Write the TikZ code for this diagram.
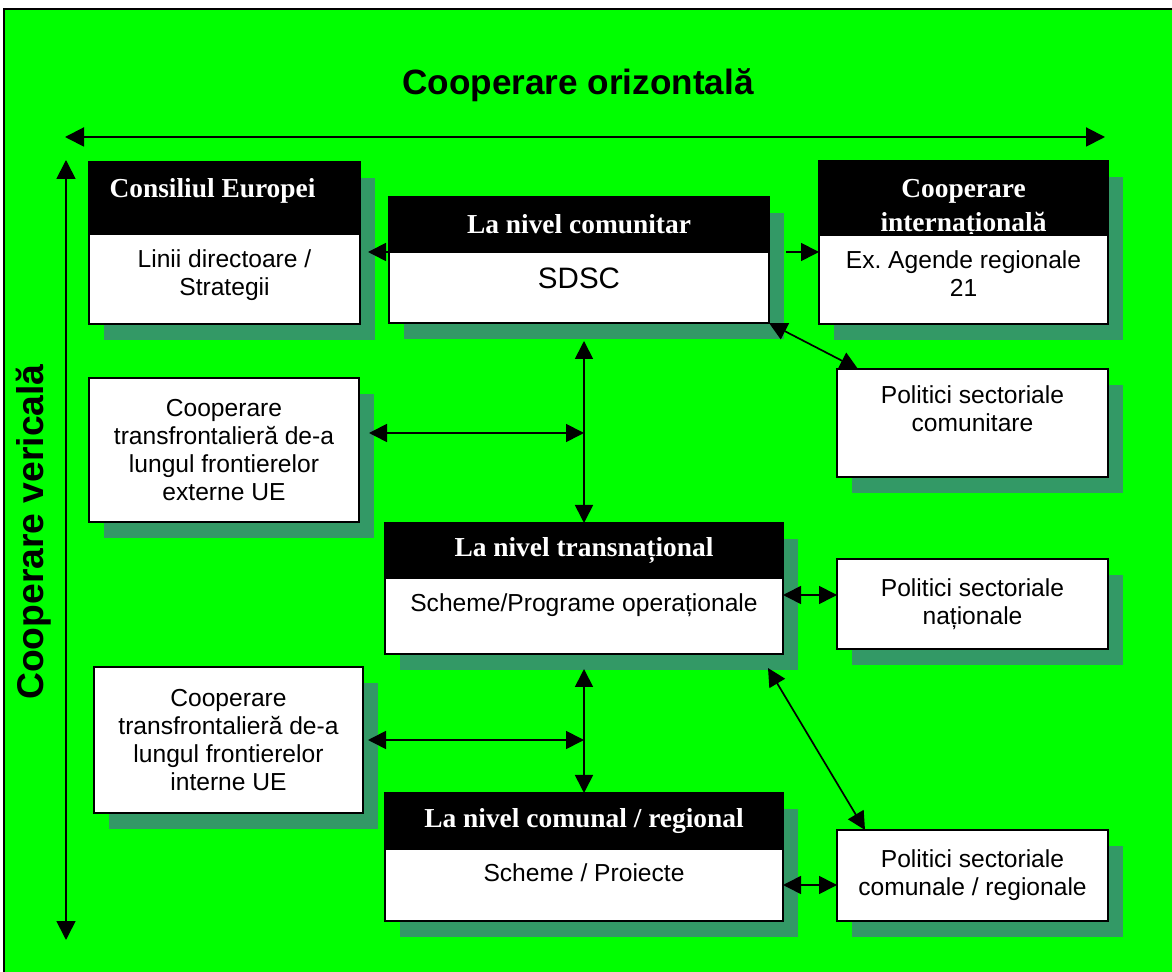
\documentclass[tikz,border=0pt]{standalone}
\usepackage{fontspec}
\setmainfont{Liberation Sans}
\newfontfamily\hdrfamily{Liberation Serif}
\usetikzlibrary{positioning,shadows,arrows.meta}

\definecolor{bggreen}{RGB}{0,255,0}
\definecolor{shadowgreen}{RGB}{51,153,102}

\tikzset{
    tile/.style={draw=black, line width=1.2pt, outer sep=0pt, inner sep=2pt, align=center,
        drop shadow={shadow xshift=0.375cm, shadow yshift=-0.4cm, fill=shadowgreen, opacity=1}},
    hdr/.style={tile, fill=black, text=white, minimum width=#1,
        font=\hdrfamily\bfseries\fontsize{19.5}{23.5}\selectfont},
    panel/.style={tile, fill=white, minimum width=#1, font=\fontsize{17.5}{20}\selectfont},
    bigtitle/.style={font=\bfseries\fontsize{25}{30}\selectfont},
    axis/.style={line width=1.4pt, {Triangle[length=0.475cm,width=0.475cm]}-{Triangle[length=0.475cm,width=0.475cm]}},
    onehead/.style={line width=1.2pt, -{Triangle[length=0.45cm,width=0.45cm]}},
    twohead/.style={line width=1.2pt, {Triangle[length=0.45cm,width=0.45cm]}-{Triangle[length=0.45cm,width=0.45cm]}},
}

\begin{document}
\begin{tikzpicture}
    \useasboundingbox (0,0) rectangle (29.3,24.275);
    % green sheet
    \draw[fill=bggreen, line width=1.4pt] (0.1,-1) rectangle (30,24.05);

    % axes
    \node[bigtitle, anchor=base] (horiz) at (14.45,21.9) {Cooperare orizontală};
    \node[bigtitle, font=\bfseries\fontsize{26.5}{30}\selectfont, anchor=base, rotate=90] (vert) at (1.075,10.975) {Cooperare vericală};
    \coordinate (hL) at (1.625,20.85);
    \coordinate (hR) at (27.625,20.85);
    \coordinate (vT) at (1.65,20.275);
    \coordinate (vB) at (1.65,0.775);
    \draw[axis] (hL) -- (hR);
    \draw[axis, line width=1.2pt] (vT) -- (vB);

    % top row
    \node[hdr=6.775cm, minimum height=1.8cm, text depth=0.5cm, anchor=north] (eurH) at (5.6125,20.225) {\mbox{Consiliul Europei\hspace{0.6cm}}};
    \node[panel=6.775cm, minimum height=2.25cm, below=0pt of eurH] (eur) {Linii directoare /\\Strategii\\[-11pt]\mbox{}};

    \node[hdr=9.5cm, minimum height=1.375cm, anchor=north] (comH) at (14.475,19.35) {La nivel comunitar};
    \node[panel=9.5cm, minimum height=1.775cm, text depth=0.475cm, font=\fontsize{21}{25}\selectfont, below=0pt of comH] (com) {SDSC};

    \node[hdr=7.225cm, minimum height=1.85cm, text width=7cm, text height=13.5pt, text depth=13.5pt, anchor=north] (intlH) at (24.0875,20.25) {Cooperare\\internațională};
    \node[panel=7.225cm, minimum height=2.225cm, below=0pt of intlH] (intl) {Ex.\ Agende regionale\\21\\[-12pt]\mbox{}};

    \node[panel=6.775cm, minimum height=2.7cm, anchor=north] (polcom) at (24.3125,15.05) {Politici sectoriale\\comunitare\\\mbox{}};

    % middle row
    \node[panel=6.75cm, minimum height=3.6cm, anchor=north] (extern) at (5.6,14.825) {Cooperare\\transfrontalieră de-a\\lungul frontierelor\\externe UE};

    \node[hdr=9.95cm, minimum height=1.375cm, anchor=north] (transH) at (14.6,11.2) {La nivel transnațional};
    \node[panel=9.95cm, minimum height=1.9cm, text depth=0.65cm, below=0pt of transH] (trans) {Scheme/Programe operaționale};

    \node[panel=6.775cm, minimum height=2.25cm, anchor=north] (polnat) at (24.3125,10.3) {Politici sectoriale\\naționale};

    % bottom row
    \node[panel=6.725cm, minimum height=3.65cm, anchor=north] (intern) at (5.7125,7.6) {Cooperare\\transfrontalieră de-a\\lungul frontierelor\\interne UE};

    \node[hdr=9.95cm, minimum height=1.4cm, anchor=north] (comunH) at (14.6,4.45) {La nivel comunal / regional};
    \node[panel=9.95cm, minimum height=1.8cm, text depth=0.6cm, below=0pt of comunH] (comun) {Scheme / Proiecte};

    \node[panel=6.775cm, minimum height=2.275cm, anchor=north] (polreg) at (24.3125,3.525) {Politici sectoriale\\comunale / regionale};

    % links
    \draw[onehead, shorten >=0.2cm] (comH.south west) -- (comH.south west -| eur.east);
    \draw[onehead] ([xshift=0.425cm]comH.south east) -- (comH.south east -| intlH.west);
    \draw[twohead] (com.south east) -- ([xshift=0.525cm]polcom.north west);
    \draw[twohead, shorten <=0.45cm] (com.south -| transH.north) -- (transH.north);

    \coordinate (extArr) at ([yshift=0.425cm]extern.east);
    \draw[twohead, shorten <=0.25cm] (extArr) -- (extArr -| transH.north);

    \coordinate (natArr) at ([yshift=0.225cm]polnat.west);
    \draw[twohead] (natArr -| trans.east) -- (natArr);

    \draw[twohead, shorten <=0.375cm] (trans.south) -- (comunH.north);
    \draw[twohead, shorten <=0.125cm] (intern.east) -- (intern.east -| comunH.north);
    \draw[twohead] ([xshift=-0.375cm,yshift=-0.35cm]trans.south east) -- ([xshift=0.7cm]polreg.north west);
    \draw[twohead] (comun.east) -- (comun.east -| polreg.west);
\end{tikzpicture}
\end{document}
